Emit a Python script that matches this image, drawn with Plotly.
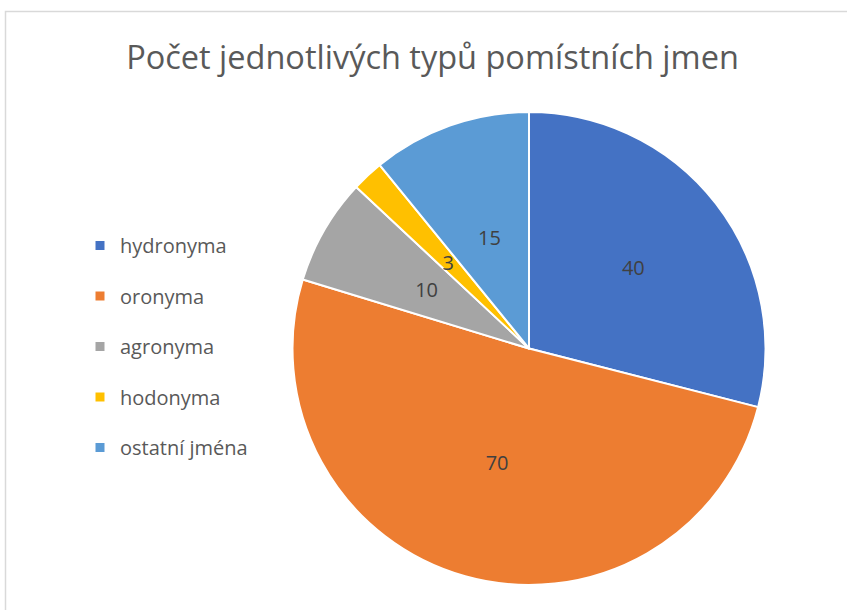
import plotly.graph_objects as go

categories = ["hydronyma", "oronyma", "agronyma", "hodonyma", "ostatní jména"]
values = [40, 70, 10, 3, 15]
colors = ["#4472C4", "#ED7D31", "#A5A5A5", "#FFC000", "#5B9BD5"]
title_text = "Počet jednotlivých typů pomístních jmen"

W, H = 847, 610
cx, cy, r = 529, 348.5, 236.5
# label ring for the narrow slices: transparent donut whose mid-ring sits at half the pie radius
hole = 0.88
r_lab = 0.5 * r / ((1 + hole) / 2)
big = [v >= 30 for v in values]


def dom(rad):
    return dict(x=[(cx - rad) / W, (cx + rad) / W], y=[1 - (cy + rad) / H, 1 - (cy - rad) / H])


label_font = dict(family="Open Sans", size=20, color="#404040")

fig = go.Figure()
fig.add_trace(go.Pie(
    labels=categories, values=values, sort=False, direction="clockwise", rotation=0,
    marker=dict(colors=colors, line=dict(color="white", width=2)),
    texttemplate=["%{value}" if b else "" for b in big],
    textposition="inside", insidetextorientation="horizontal",
    textfont=label_font, showlegend=False, hoverinfo="label+value",
    domain=dom(r),
))
fig.add_trace(go.Pie(
    labels=categories, values=values, sort=False, direction="clockwise", rotation=0,
    hole=hole,
    marker=dict(colors=["rgba(0,0,0,0)"] * len(values), line=dict(width=0)),
    texttemplate=["" if b else "%{value}" for b in big],
    textposition="inside", insidetextorientation="horizontal",
    textfont=label_font, showlegend=False, hoverinfo="skip",
    domain=dom(r_lab),
))
for c, col in zip(categories, colors):
    fig.add_trace(go.Scatter(
        x=[None], y=[None], mode="markers", name=c, legendgroup=c,
        marker=dict(symbol="square", size=9, color=col),
    ))

fig.update_layout(
    width=W, height=H, margin=dict(l=0, r=0, t=0, b=0),
    paper_bgcolor="white", plot_bgcolor="white",
    xaxis=dict(visible=False), yaxis=dict(visible=False),
    uniformtext=dict(mode="show", minsize=20),
    title=dict(text=title_text, x=432.5 / W, xanchor="center", xref="paper",
               y=1 - 58 / H, yanchor="middle", yref="container",
               font=dict(family="Open Sans", size=32.5, color="#595959")),
    legend=dict(x=80 / W, xanchor="left", y=1 - 226 / H, yanchor="top",
                font=dict(family="Open Sans", size=20, color="#595959"),
                tracegroupgap=21.5, itemwidth=30, bgcolor="rgba(0,0,0,0)"),
    shapes=[dict(type="rect", xref="paper", yref="paper",
                 x0=5.5 / W, x1=1.2, y0=-0.2, y1=1 - 11.5 / H,
                 line=dict(color="#D9D9D9", width=1.5), fillcolor="rgba(0,0,0,0)", layer="below")],
)
fig.write_html("out.html", config={"displayModeBar": False},
               post_script="document.body.style.margin='0';document.body.style.overflow='hidden';")
